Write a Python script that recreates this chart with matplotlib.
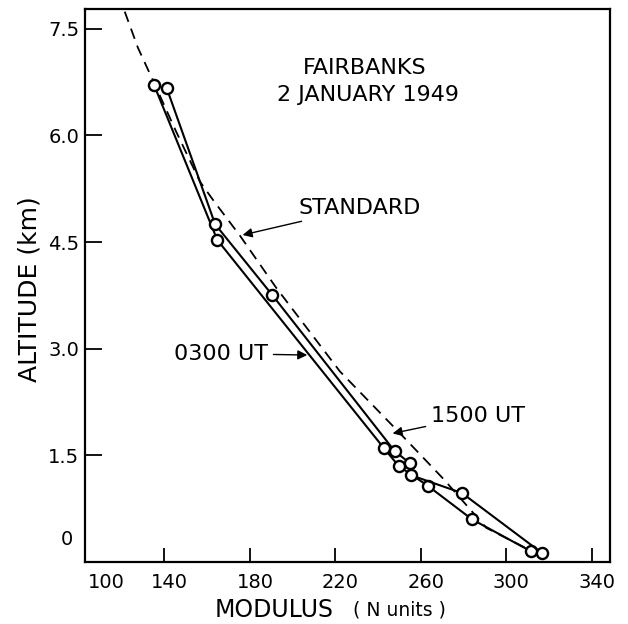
import matplotlib
matplotlib.use('Agg')
import matplotlib.pyplot as plt
import matplotlib.transforms as mtransforms

# data (N units, km)
ut0300_n = [135.1, 164.7, 242.7, 249.6, 263.3, 283.9, 311.5]
ut0300_alt = [6.71, 4.53, 1.60, 1.35, 1.07, 0.60, 0.15]

ut1500_n = [141.1, 163.7, 190.3, 247.7, 254.8, 255.4, 279.2, 316.9]
ut1500_alt = [6.66, 4.75, 3.76, 1.56, 1.39, 1.22, 0.97, 0.12]

std_n = [121.4, 127.6, 134.5, 145.5, 156.6, 163.0, 175.3, 192.2, 222.1, 250.2, 270.8, 290.6, 310.1]
std_alt = [7.74, 7.23, 6.78, 6.05, 5.35, 5.08, 4.59, 3.86, 2.68, 1.81, 1.16, 0.48, 0.18]

xticks = [140, 180, 220, 260, 300, 340]
yticks = [1.5, 3.0, 4.5, 6.0, 7.5]

plt.rcParams['font.family'] = 'DejaVu Sans'

fig = plt.figure(figsize=(6.28, 6.24), dpi=100)
ax = fig.add_axes([0.135, 0.0994, 0.836, 0.8865])

ax.plot(std_n, std_alt, color='black', lw=1.3, ls=(0, (6, 4)))
ax.plot(ut0300_n, ut0300_alt, color='black', lw=1.5, marker='o', ms=8,
        mfc='white', mec='black', mew=1.7)
ax.plot(ut1500_n, ut1500_alt, color='black', lw=1.5, marker='o', ms=8,
        mfc='white', mec='black', mew=1.7)

ax.set_xlim(102.7, 348.4)
ax.set_ylim(0.0, 7.78)
ax.set_xticks(xticks)
ax.set_yticks(yticks)
ax.set_xticklabels([str(v) for v in xticks])
ax.set_yticklabels(['%.1f' % v for v in yticks])
ax.tick_params(axis='y', direction='in', length=12, width=1.3, labelsize=14, pad=4)
ax.tick_params(axis='x', direction='in', length=10, width=1.3, labelsize=14, pad=8)
for s in ax.spines.values():
    s.set_linewidth(1.6)

# x labels sit a little right of their ticks
shift = mtransforms.ScaledTranslation(5 / 100, 0, fig.dpi_scale_trans)
for lab in ax.get_xticklabels():
    lab.set_transform(lab.get_transform() + shift)

# the "100" and "0" labels sit off their ticks in the original
ax.annotate('100', xy=(112.6, 0), xycoords=mtransforms.blended_transform_factory(ax.transData, ax.transAxes),
            xytext=(0, -8), textcoords='offset points', ha='center', va='top', fontsize=14)
ax.text(-0.022, 0.32, '0', transform=mtransforms.blended_transform_factory(ax.transAxes, ax.transData),
        ha='right', va='center', fontsize=14)

ax.text(233.7, 6.95, 'FAIRBANKS', ha='center', va='center', fontsize=16)
ax.text(235.2, 6.57, '2 JANUARY 1949', ha='center', va='center', fontsize=16)

arrow = dict(arrowstyle='-|>', color='black', lw=1.0, mutation_scale=14)
ax.annotate('STANDARD', xy=(175.3, 4.59), xytext=(202.5, 4.98), ha='left', va='center',
            fontsize=16, arrowprops=arrow)
ax.annotate('0300 UT', xy=(208.1, 2.91), xytext=(144.4, 2.93), ha='left', va='center',
            fontsize=16, arrowprops=arrow)
ax.annotate('1500 UT', xy=(245.5, 1.80), xytext=(264.8, 2.06), ha='left', va='center',
            fontsize=16, arrowprops=arrow)

fig.text(30 / 628, 1 - 289 / 624, 'ALTITUDE (km)', rotation=90, ha='center', va='center', fontsize=18)
fig.text(215 / 628, 1 - 610 / 624, 'MODULUS', ha='left', va='center', fontsize=17)
fig.text(353 / 628, 1 - 610 / 624, '( N units )', ha='left', va='center', fontsize=13.5)

fig.savefig('out.png', dpi=100)
